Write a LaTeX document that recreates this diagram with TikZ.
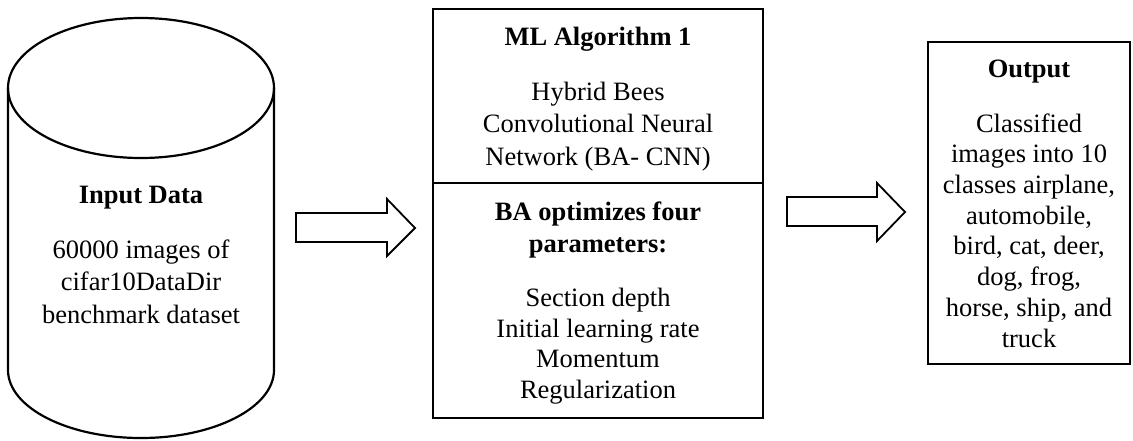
\documentclass[tikz,border=0pt]{standalone}
\usepackage{fontspec}
\setmainfont{Liberation Serif}
\begin{document}
\begin{tikzpicture}[x=0.5pt,y=-0.5pt,
  outline/.style={draw=black, line width=1.1pt},
  blockarrow/.style={draw=black, line width=0.9pt, fill=white, line join=miter},
  txt/.style={anchor=base, align=center, inner sep=0pt,
    font=\fontsize{13.25pt}{16pt}\selectfont},
  ttl/.style={txt, font=\fontsize{13.25pt}{16pt}\selectfont\bfseries}]
\useasboundingbox (0,0) rectangle (1133,440);

% input data store (cylinder); multi-line texts are placed by their last baseline
\coordinate (cylTL) at (8,88);
\coordinate (cylTR) at (274,88);
\coordinate (cylBL) at (8,370);
\coordinate (cylBR) at (274,370);
\draw[outline] (141,88) ellipse [x radius=133, y radius=70];
\draw[outline] (cylTL) -- (cylBL) arc[start angle=180, end angle=360, x radius=133, y radius=-68] -- (cylTR);
\node[ttl] (inTitle) at (141,203) {Input Data};
\node[txt, font=\fontsize{13.25pt}{16.25pt}\selectfont] (inBody) at (141,323) {60000 images of\\cifar10DataDir\\benchmark dataset};

% algorithm box
\node[outline, minimum width=165pt, minimum height=204.5pt, inner sep=0pt] (alg) at (598,213.5) {};
\coordinate (divL) at (433,183);
\coordinate (divR) at (763,183);
\draw[outline] (divL) -- (divR);
\node[ttl] (algTitle) at (598,45) {ML Algorithm 1};
\node[txt, font=\fontsize{13.25pt}{16.25pt}\selectfont] (algBody) at (598,165) {Hybrid Bees\\Convolutional Neural\\Network (BA- CNN)};
\node[ttl] (optTitle) at (598,252) {BA optimizes four\\parameters:};
\node[txt, font=\fontsize{13.25pt}{15.2pt}\selectfont] (optBody) at (598,398) {Section depth\\Initial learning rate\\Momentum\\Regularization};

% output box
\node[outline, minimum width=101pt, minimum height=161pt, inner sep=0pt] (out) at (1029,203) {};
\node[ttl] (outTitle) at (1029,77) {Output};
\node[txt, font=\fontsize{13.25pt}{15.35pt}\selectfont] (outBody) at (1029,347) {Classified\\images into 10\\classes airplane,\\automobile,\\bird, cat, deer,\\dog, frog,\\horse, ship, and\\truck};

% block arrows between the stages
\draw[blockarrow] (296,213) -- (387,213) -- (387,199) -- (415,228) -- (387,256) -- (387,242) -- (296,242) -- cycle;
\draw[blockarrow] (787,197) -- (877,197) -- (877,183) -- (905,212) -- (877,241) -- (877,226) -- (787,226) -- cycle;
\end{tikzpicture}
\end{document}
